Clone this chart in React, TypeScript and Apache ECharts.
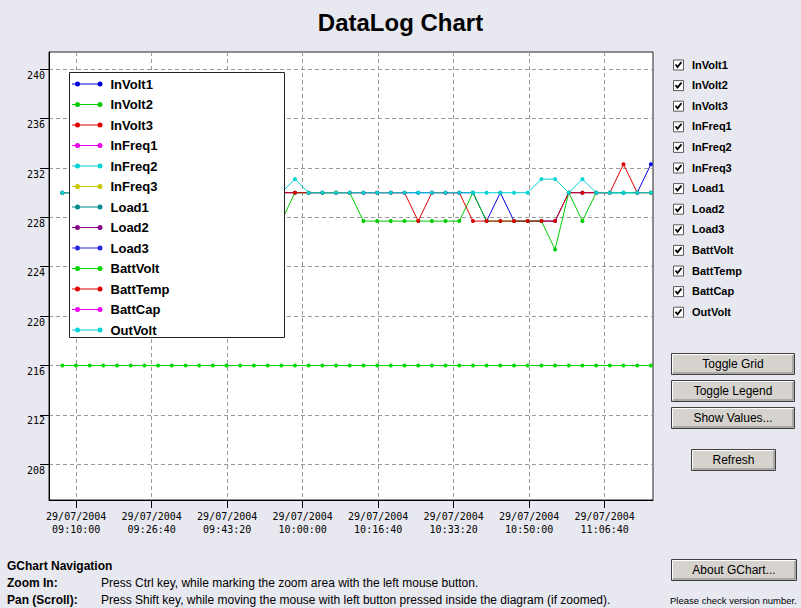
import React, { useEffect, useRef } from 'react';
import * as echarts from 'echarts';

const DATE_LABEL = '29/07/2004';

const sampleTimes = [
  '09:06:56', '09:09:57', '09:12:59', '09:16:00', '09:19:01', '09:22:03', '09:25:04', '09:28:05', '09:31:06', '09:34:08',
  '09:37:09', '09:40:10', '09:43:12', '09:46:13', '09:49:14', '09:52:16', '09:55:17', '09:58:18', '10:01:19', '10:04:21',
  '10:07:22', '10:10:23', '10:13:25', '10:16:26', '10:19:27', '10:22:29', '10:25:30', '10:28:31', '10:31:32', '10:34:34',
  '10:37:35', '10:40:36', '10:43:38', '10:46:39', '10:49:40', '10:52:42', '10:55:43', '10:58:44', '11:01:45', '11:04:47',
  '11:07:48', '11:10:49', '11:13:51', '11:16:52',
];

const xTickTimes = ['09:10:00', '09:26:40', '09:43:20', '10:00:00', '10:16:40', '10:33:20', '10:50:00', '11:06:40'];
const xRange = ['09:04:00', '11:17:20'];
const yTicks = [208, 212, 216, 220, 224, 228, 232, 236, 240];
const yRange = [205.1, 241.4];

const seriesNames = [
  'InVolt1', 'InVolt2', 'InVolt3', 'InFreq1', 'InFreq2', 'InFreq3', 'Load1', 'Load2', 'Load3',
  'BattVolt', 'BattTemp', 'BattCap', 'OutVolt',
];
const seriesColors = [
  '#0000dd', '#00cc00', '#e00000', '#ee00ee', '#00d4d4', '#c8c800', '#008b8b', '#880088', '#2828e0',
  '#00d800', '#e00000', '#ee00ee', '#00d4d4',
];

const inVolt1 = [
  230, 230, 230, 230, 230, 230, 230, 230, 230, 230,
  230, 230, 230, 230, 230, 230, 230, 230, 230, 230,
  230, 230, 230, 230, 230, 230, 230, 230, 230, 230,
  230, 227.7, 230, 227.7, 227.7, 227.7, 227.7, 230, 230, 230,
  230, 230, 230, 232.3,
];
const inVolt2 = [
  230, 230, 230, 230, 230, 230, 230, 230, 230, 230,
  230, 230, 230, 230, 230, 230, 227.7, 230, 230, 230,
  230, 230, 227.7, 227.7, 227.7, 227.7, 227.7, 227.7, 227.7, 227.7,
  230, 227.7, 227.7, 227.7, 227.7, 227.7, 225.4, 230, 227.7, 230,
  230, 230, 230, 230,
];
const inVolt3 = [
  230, 230, 230, 230, 230, 230, 230, 230, 230, 230,
  230, 230, 230, 230, 230, 230, 230, 230, 230, 230,
  230, 230, 230, 230, 230, 230, 227.7, 230, 230, 230,
  227.7, 227.7, 227.7, 227.7, 227.7, 227.7, 227.7, 230, 230, 230,
  230, 232.3, 230, 230,
];
const battVolt = [
  216, 216, 216, 216, 216, 216, 216, 216, 216, 216,
  216, 216, 216, 216, 216, 216, 216, 216, 216, 216,
  216, 216, 216, 216, 216, 216, 216, 216, 216, 216,
  216, 216, 216, 216, 216, 216, 216, 216, 216, 216,
  216, 216, 216, 216,
];
const outVolt = [
  230, 230, 230, 230, 230, 230, 230, 230, 230, 230,
  230, 230, 230, 230, 230, 230, 230, 231.1, 230, 230,
  230, 230, 230, 230, 230, 230, 230, 230, 230, 230,
  230, 230, 230, 230, 230, 231.1, 231.1, 230, 231.1, 230,
  230, 230, 230, 230,
];
// Series whose values lie outside the visible 205–241 range (nothing drawn in the plot)
const inFreq1: number[] = [];
const inFreq2: number[] = [];
const inFreq3: number[] = [];
const load1: number[] = [];
const load2: number[] = [];
const load3: number[] = [];
const battTemp: number[] = [];
const battCap: number[] = [];

const seriesValues = [
  inVolt1, inVolt2, inVolt3, inFreq1, inFreq2, inFreq3, load1, load2, load3,
  battVolt, battTemp, battCap, outVolt,
];

const buttonLabels = ['Toggle Grid', 'Toggle Legend', 'Show Values...'];
const navTitle = 'GChart Navigation';
const navRows = [
  ['Zoom In:', 'Press Ctrl key, while marking the zoom area with the left mouse button.'],
  ['Pan (Scroll):', 'Press Shift key, while moving the mouse with left button pressed inside the diagram (if zoomed).'],
];

const toSec = (s: string) => {
  const [h, m, ss] = s.split(':').map(Number);
  return h * 3600 + m * 60 + ss;
};
const pad = (n: number) => (n < 10 ? '0' + n : '' + n);
const fmtTime = (v: number) => {
  const t = Math.round(v);
  return pad(Math.floor(t / 3600)) + ':' + pad(Math.floor((t % 3600) / 60)) + ':' + pad(t % 60);
};

const SANS = "'Liberation Sans', Arial, sans-serif";
const MONO = "'DejaVu Sans Mono', 'Liberation Mono', monospace";

const LEGEND_ICON =
  'path://M0,2.5 L30,2.5 L30,3.5 L0,3.5 Z M3,3 A2.5,2.5 0 1,1 8,3 A2.5,2.5 0 1,1 3,3 Z M25.5,3 A2.5,2.5 0 1,1 30.5,3 A2.5,2.5 0 1,1 25.5,3 Z';

function textEl(text: string, x: number, y: number, font: string, align = 'left', fill = '#000') {
  return {
    type: 'text',
    z: 10,
    style: {
      text,
      x,
      y,
      font,
      fill,
      textAlign: align,
      align,
      textVerticalAlign: 'middle',
      verticalAlign: 'middle',
    },
  };
}

function buttonEls(x: number, y: number, w: number, h: number, label: string) {
  return [
    { type: 'rect', z: 10, shape: { x: x + 0.5, y: y + 0.5, width: w - 1, height: h - 1 }, style: { fill: '#d6d3ce', stroke: '#404040', lineWidth: 1 } },
    { type: 'polyline', z: 10, shape: { points: [[x + 1.5, y + h - 2], [x + 1.5, y + 1.5], [x + w - 2, y + 1.5]] }, style: { stroke: '#ffffff', fill: null, lineWidth: 1 } },
    { type: 'polyline', z: 10, shape: { points: [[x + 2, y + h - 2], [x + w - 2, y + h - 2], [x + w - 2, y + 2]] }, style: { stroke: '#808080', fill: null, lineWidth: 1 } },
    textEl(label, x + w / 2, y + h / 2, `12px ${SANS}`, 'center'),
  ];
}

function checkboxEls(x: number, cy: number, label: string) {
  const y = cy - 5;
  return [
    { type: 'rect', z: 10, shape: { x: x + 0.5, y: y + 0.5, width: 10, height: 10 }, style: { fill: '#ffffff', stroke: '#5a5a5a', lineWidth: 1 } },
    { type: 'polyline', z: 10, shape: { points: [[x + 2.5, y + 5], [x + 4.5, y + 7.5], [x + 8.5, y + 2.5]] }, style: { stroke: '#000', fill: null, lineWidth: 1.8 } },
    textEl(label, x + 19, cy, `bold 11px ${SANS}`),
  ];
}

export default function App() {
  const ref = useRef<HTMLDivElement>(null);

  useEffect(() => {
    document.body.style.margin = '0';
    if (!ref.current) return;
    const chart = echarts.init(ref.current, undefined, { renderer: 'svg' });

    const xs = sampleTimes.map(toSec);
    const xTicks = xTickTimes.map(toSec);

    const graphics: any[] = [
      // legend frame covering the plot
      { type: 'rect', z: 3, shape: { x: 69.5, y: 72.5, width: 215, height: 265 }, style: { fill: '#ffffff', stroke: '#222', lineWidth: 1 } },
    ];
    seriesNames.forEach((n, i) => {
      graphics.push(...checkboxEls(673, 64.5 + i * 20.6, n));
    });
    buttonLabels.forEach((b, i) => {
      graphics.push(...buttonEls(671, 353 + i * 27, 124, 22, b));
    });
    graphics.push(...buttonEls(691, 449, 85, 22, 'Refresh'));
    graphics.push(...buttonEls(671, 559, 126, 22, 'About GChart...'));
    graphics.push(textEl(navTitle, 7, 566, `bold 12px ${SANS}`));
    navRows.forEach((r, i) => {
      graphics.push(textEl(r[0], 7, 583 + i * 17, `bold 12px ${SANS}`));
      graphics.push(textEl(r[1], 101, 583 + i * 17, `12px ${SANS}`));
    });
    graphics.push(textEl('Please check version number.', 670, 600, `9.5px ${SANS}`));

    const option: any = {
      animation: false,
      backgroundColor: '#e8e8f0',
      title: {
        text: 'DataLog Chart',
        left: 'center',
        top: 5,
        textStyle: { fontSize: 24, fontWeight: 'bold', fontFamily: SANS, color: '#000' },
      },
      grid: {
        left: 49,
        right: 148,
        top: 52,
        bottom: 108,
        show: true,
        backgroundColor: '#ffffff',
        borderColor: '#222',
        borderWidth: 1,
      },
      legend: {
        show: true,
        orient: 'vertical',
        left: 72,
        top: 77,
        padding: 0,
        itemGap: 6.5,
        itemWidth: 30.5,
        itemHeight: 5,
        icon: LEGEND_ICON,
        selectedMode: false,
        z: 4,
        itemStyle: { borderWidth: 0 },
        textStyle: {
          fontSize: 13,
          fontWeight: 'bold',
          fontFamily: SANS,
          color: '#000',
          lineHeight: 14,
          padding: [0, 0, 0, 3],
        },
        data: seriesNames,
      },
      xAxis: {
        type: 'value',
        min: toSec(xRange[0]),
        max: toSec(xRange[1]),
        axisLine: { show: true, onZero: false, lineStyle: { color: '#000', width: 1 } },
        axisTick: { show: true, length: 8, customValues: xTicks, lineStyle: { color: '#000' } },
        axisLabel: {
          customValues: xTicks,
          margin: 10,
          lineHeight: 13,
          fontFamily: MONO,
          fontSize: 10,
          color: '#000',
          formatter: (v: number) => DATE_LABEL + '\n' + fmtTime(v),
        },
        splitLine: { show: true, lineStyle: { color: '#9a9a9a', type: [4, 3], width: 1 } },
      },
      yAxis: {
        type: 'value',
        min: yRange[0],
        max: yRange[1],
        axisLine: { show: true, onZero: false, lineStyle: { color: '#000', width: 1 } },
        axisTick: { show: true, length: 9, customValues: yTicks, lineStyle: { color: '#000' } },
        axisLabel: {
          customValues: yTicks,
          margin: 4,
          verticalAlign: 'top',
          padding: [1, 0, 0, 0],
          fontFamily: MONO,
          fontSize: 10,
          color: '#000',
        },
        splitLine: { show: true, lineStyle: { color: '#9a9a9a', type: [4, 3], width: 1 } },
      },
      series: seriesNames.map((name, i) => ({
        name,
        type: 'line',
        color: seriesColors[i],
        data: seriesValues[i].map((v, k) => [xs[k], v]),
        symbol: 'circle',
        symbolSize: 4,
        showSymbol: true,
        lineStyle: { width: 1, color: seriesColors[i] },
        itemStyle: { color: seriesColors[i], borderWidth: 0 },
        emphasis: { disabled: true },
        z: 2,
      })),
      graphic: { elements: graphics },
    };

    chart.setOption(option);
    return () => chart.dispose();
  }, []);

  return (
    <div
      ref={ref}
      style={{ position: 'absolute', left: 0, top: 0, width: 801, height: 608 }}
    />
  );
}
